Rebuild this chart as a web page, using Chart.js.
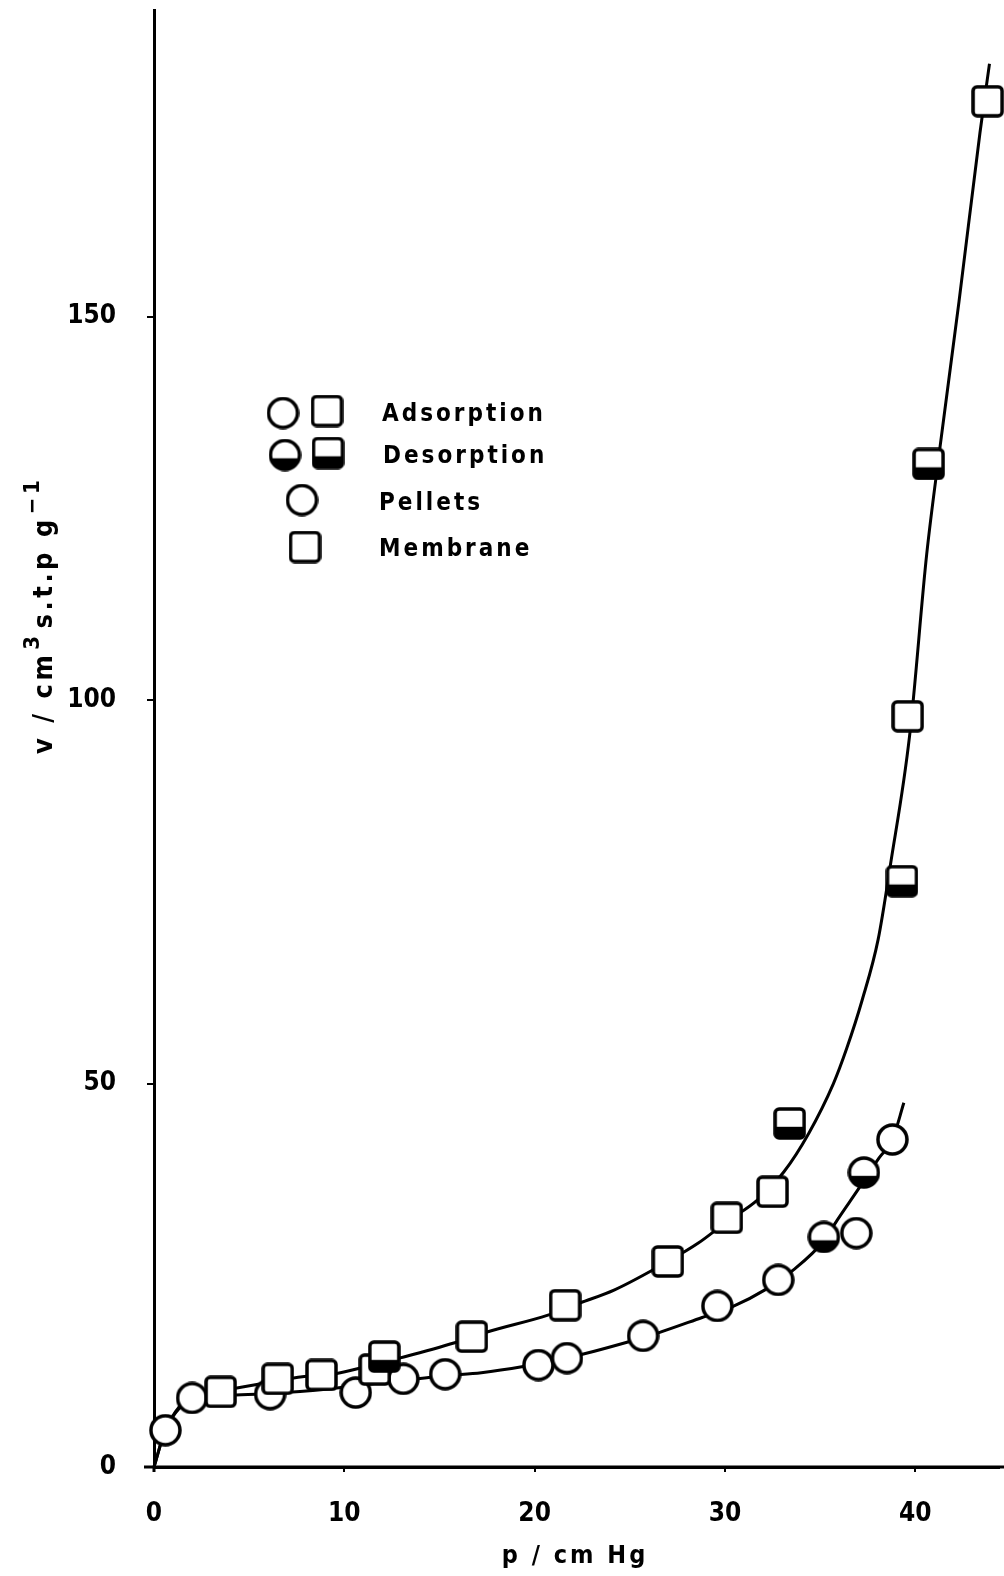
<!DOCTYPE html>
<html>
<head>
<meta charset="utf-8">
<script src="https://cdn.jsdelivr.net/npm/chart.js@4.4.0/dist/chart.umd.min.js"></script>
<style>
  html, body { margin: 0; padding: 0; background: #fff; overflow: hidden; }
  #wrap { width: 1004px; height: 1576px; position: relative; }
  #isotherm { display: block; }
</style>
</head>
<body>
<div id="wrap"><canvas id="isotherm"></canvas></div>
<script>
// pellets (circles): adsorption open, desorption half filled
const pelletsAdsP = [0.6, 2.0, 6.1, 10.6, 13.1, 15.3, 20.2, 21.7, 25.7, 29.6, 32.8, 36.9, 38.8];
const pelletsAdsV = [4.8, 9.0, 9.5, 9.7, 11.5, 12.1, 13.3, 14.2, 17.1, 21.0, 24.4, 30.5, 42.7];
const pelletsDesP = [35.2, 37.3];
const pelletsDesV = [30.0, 38.4];

// membrane (squares)
const membraneAdsP = [3.5, 6.5, 8.8, 11.6, 16.7, 21.6, 27.0, 30.1, 32.5, 39.6, 43.8];
const membraneAdsV = [9.8, 11.5, 12.0, 12.7, 17.0, 21.1, 26.8, 32.5, 35.9, 97.9, 178.1];
const membraneDesP = [12.1, 33.4, 39.3, 40.7];
const membraneDesV = [14.4, 44.8, 76.4, 130.8];

// hand drawn curves
const pelletsFitP = [0, 0.6, 2.0, 4.3, 6.1, 8.0, 10.6, 13.1, 15.3, 17.2, 19.4, 21.7, 24.9, 26.5, 28.8, 30.4, 32.1, 33.6, 35.2, 35.9, 37.0, 38.1, 38.8, 39.4];
const pelletsFitV = [0, 4.8, 9.0, 9.4, 9.6, 9.9, 10.6, 11.3, 11.9, 12.3, 13.1, 14.2, 16.3, 17.5, 19.5, 20.9, 23.1, 25.7, 29.5, 32.2, 36.2, 40.3, 42.7, 47.5];
const membraneFitP = [0, 0.6, 2.0, 3.5, 5.7, 7.9, 9.6, 11.0, 12.9, 15.8, 17.5, 20.7, 22.4, 24.2, 27.0, 28.6, 30.1, 31.7, 33.1, 34.4, 35.7, 36.4, 37.2, 38.05, 38.7, 39.7, 40.6, 41.3, 42.3, 43.4, 43.9];
const membraneFitV = [0, 4.8, 9.0, 9.9, 10.9, 11.8, 12.2, 13.0, 14.2, 16.2, 17.6, 19.8, 21.4, 23.1, 26.8, 29.2, 32.0, 34.8, 38.5, 43.5, 50.0, 54.6, 60.8, 68.8, 78.6, 95.3, 119.0, 133.0, 152.0, 174.0, 183.0];

const xTicks = [0, 10, 20, 30, 40];
const yTicks = [0, 50, 100, 150];
const legendLabels = ['Adsorption', 'Desorption', 'Pellets', 'Membrane'];

const FONT = '"Liberation Sans Narrow", "DejaVu Sans Condensed", sans-serif';

function toXY(xs, ys) {
  return xs.map((x, i) => ({ x: x, y: ys[i] }));
}

// marker glyphs
function markerIcon(shape, desorb, size) {
  const c = document.createElement('canvas');
  c.width = size; c.height = size;
  const g = c.getContext('2d');
  g.lineWidth = 3.5;
  g.strokeStyle = '#000';
  g.fillStyle = '#fff';
  g.beginPath();
  if (shape === 'circle') g.arc(size / 2, size / 2, size / 2 - 2, 0, Math.PI * 2);
  else g.roundRect(2, 2, size - 4, size - 4, 4);
  g.fill();
  if (desorb) {
    g.save();
    g.clip();
    g.fillStyle = '#000';
    g.fillRect(0, size * 0.6, size, size);
    g.restore();
  }
  g.stroke();
  return c;
}

const circleOpen = markerIcon('circle', false, 33);
const circleHalf = markerIcon('circle', true, 33);
const squareOpen = markerIcon('square', false, 33);
const squareHalf = markerIcon('square', true, 33);

const extras = {
  id: 'extras',
  afterDraw(chart) {
    const ctx = chart.ctx;
    const area = chart.chartArea;
    ctx.save();
    ctx.fillStyle = '#000';
    ctx.strokeStyle = '#000';

    // axis lines run a little past the plot box
    ctx.lineWidth = 3;
    ctx.beginPath();
    ctx.moveTo(area.left - 10, area.bottom);
    ctx.lineTo(chart.width, area.bottom);
    ctx.moveTo(area.left, area.bottom);
    ctx.lineTo(area.left, area.bottom + 5);
    ctx.stroke();

    // legend
    const icons = [
      [circleOpen, 283, 413], [squareOpen, 327, 411],
      [circleHalf, 285, 455], [squareHalf, 328, 453],
      [circleOpen, 302, 500], [squareOpen, 305, 547]
    ];
    icons.forEach(([img, x, y]) => ctx.drawImage(img, x - img.width / 2, y - img.height / 2));
    ctx.font = 'bold 24px ' + FONT;
    ctx.letterSpacing = '3px';
    ctx.textAlign = 'left';
    ctx.textBaseline = 'alphabetic';
    const tx = [382, 383, 379, 379];
    const ty = [421, 463, 510, 556];
    legendLabels.forEach((t, i) => ctx.fillText(t, tx[i], ty[i]));

    // x title
    ctx.font = 'bold 25px ' + FONT;
    ctx.letterSpacing = '3px';
    ctx.textAlign = 'center';
    ctx.fillText('p / cm Hg', 575, 1563);

    // y title, with superscripts
    ctx.translate(52, 754);
    ctx.rotate(-Math.PI / 2);
    ctx.textAlign = 'left';
    ctx.letterSpacing = '3.5px';
    const parts = [['v / cm', false], ['3', true], ['s.t.p g', false], ['\u22121', true]];
    let pos = 0;
    parts.forEach(([t, sup]) => {
      ctx.font = 'bold ' + (sup ? '22px ' : '27px ') + FONT;
      ctx.fillText(t, pos + (sup ? 2 : 0), sup ? -13 : 0);
      pos += ctx.measureText(t).width + (sup ? 6 : 0);
    });
    ctx.restore();
  }
};

const ctx = document.getElementById('isotherm').getContext('2d');

const markerDefaults = { showLine: false, clip: false, order: 1 };
const fitDefaults = {
  showLine: true, pointRadius: 0, borderColor: '#000', borderWidth: 3,
  cubicInterpolationMode: 'monotone', clip: false, order: 3
};

const config = {
  type: 'scatter',
  data: {
    datasets: [
      { ...markerDefaults, label: 'Membrane desorption', data: toXY(membraneDesP, membraneDesV), pointStyle: squareHalf, order: 0 },
      { ...markerDefaults, label: 'Membrane adsorption', data: toXY(membraneAdsP, membraneAdsV), pointStyle: squareOpen },
      { ...markerDefaults, label: 'Pellets desorption', data: toXY(pelletsDesP, pelletsDesV), pointStyle: circleHalf, order: 2 },
      { ...markerDefaults, label: 'Pellets adsorption', data: toXY(pelletsAdsP, pelletsAdsV), pointStyle: circleOpen, order: 2 },
      { ...fitDefaults, label: 'Pellets fit', data: toXY(pelletsFitP, pelletsFitV) },
      { ...fitDefaults, label: 'Membrane fit', data: toXY(membraneFitP, membraneFitV) }
    ]
  },
  options: {
    responsive: true,
    maintainAspectRatio: false,
    animation: false,
    layout: { padding: { top: 10, right: 0, left: 0, bottom: 0 } },
    plugins: {
      legend: { display: false },
      tooltip: { enabled: false }
    },
    scales: {
      x: {
        type: 'linear',
        min: 0,
        max: 44.4,
        afterFit: (scale) => {
          scale.height = 109;
          scale.paddingLeft = 0;
          scale.paddingRight = 0;
        },
        afterBuildTicks: (scale) => { scale.ticks = xTicks.map(v => ({ value: v })); },
        ticks: { color: '#000', font: { family: FONT, size: 26, weight: 'bold' }, padding: 27, maxRotation: 0 },
        grid: { drawOnChartArea: false, color: '#000', lineWidth: 2, tickLength: 5 },
        border: { color: '#000', width: 3 }
      },
      y: {
        type: 'linear',
        min: 0,
        max: 190,
        afterFit: (scale) => {
          scale.width = 154;
          scale.paddingTop = 0;
          scale.paddingBottom = 0;
        },
        afterBuildTicks: (scale) => { scale.ticks = yTicks.map(v => ({ value: v })); },
        ticks: { color: '#000', font: { family: FONT, size: 26, weight: 'bold' }, padding: 31 },
        grid: { drawOnChartArea: false, color: '#000', lineWidth: 2, tickLength: 7 },
        border: { color: '#000', width: 3 }
      }
    }
  },
  plugins: [extras]
};

const isothermChart = new Chart(ctx, config);
</script>
</body>
</html>
